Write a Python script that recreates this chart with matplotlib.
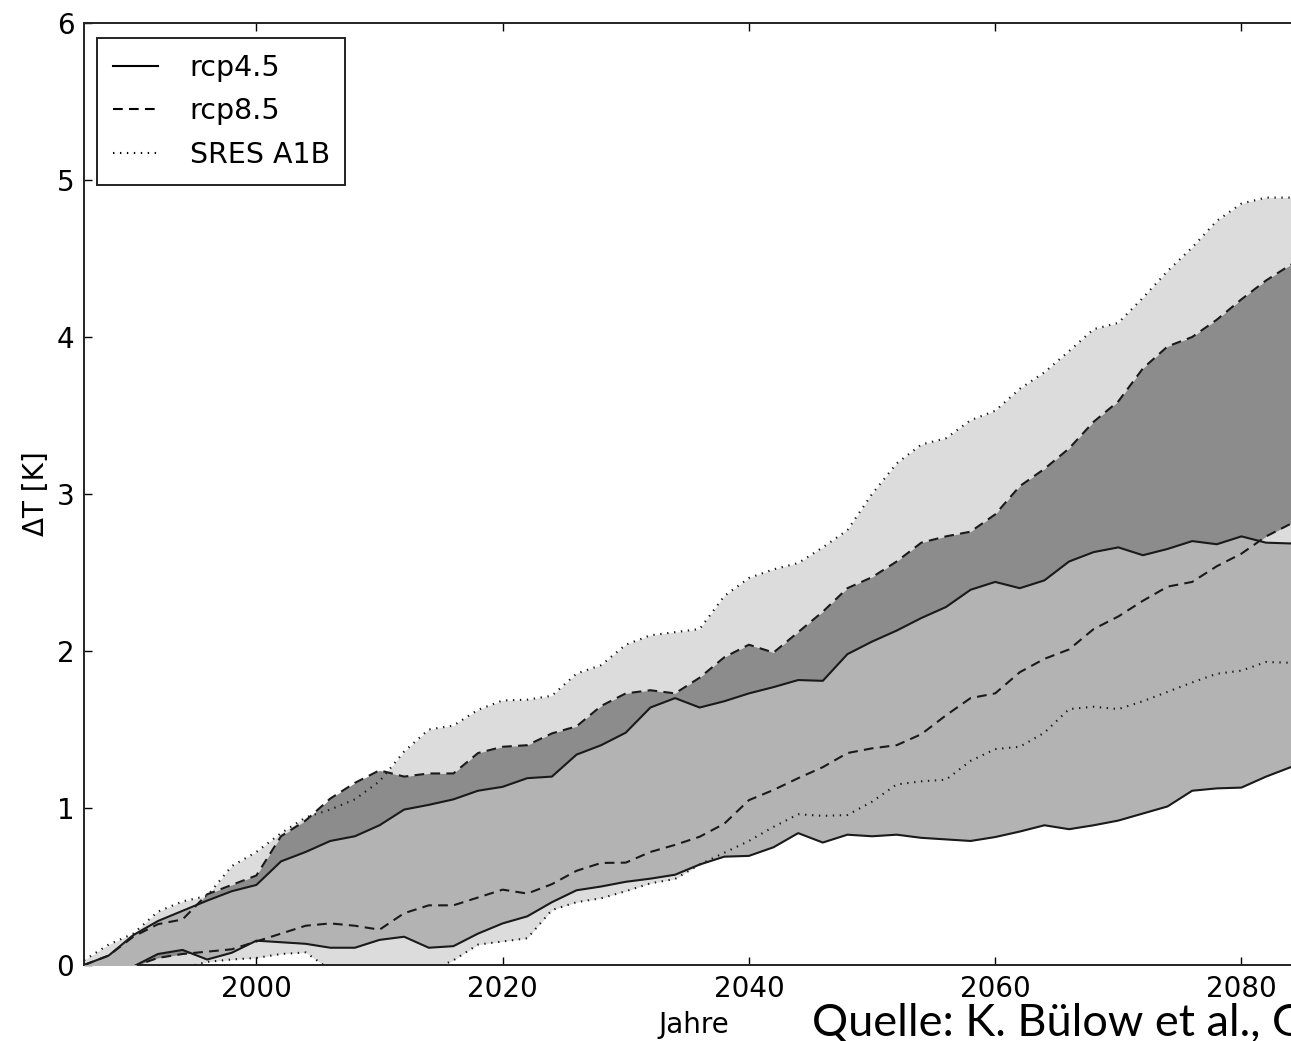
import matplotlib
matplotlib.use("Agg")
import matplotlib.pyplot as plt
from matplotlib.lines import Line2D

# years (every 2 years, last point at the axis end)
years = [1986, 1988, 1990, 1992, 1994, 1996, 1998, 2000, 2002, 2004,
         2006, 2008, 2010, 2012, 2014, 2016, 2018, 2020, 2022, 2024,
         2026, 2028, 2030, 2032, 2034, 2036, 2038, 2040, 2042, 2044,
         2046, 2048, 2050, 2052, 2054, 2056, 2058, 2060, 2062, 2064,
         2066, 2068, 2070, 2072, 2074, 2076, 2078, 2080, 2082, 2084, 2085]

# rcp4.5 range (solid)
rcp45_hi = [0.0, 0.06, 0.19, 0.28, 0.345, 0.41, 0.47, 0.51, 0.66, 0.72,
            0.79, 0.82, 0.89, 0.99, 1.02, 1.055, 1.11, 1.135, 1.19, 1.20,
            1.34, 1.40, 1.48, 1.64, 1.70, 1.64, 1.68, 1.73, 1.77, 1.815,
            1.81, 1.98, 2.06, 2.13, 2.21, 2.28, 2.39, 2.44, 2.40, 2.45,
            2.57, 2.63, 2.66, 2.61, 2.65, 2.70, 2.68, 2.73, 2.69, 2.685, 2.70]
rcp45_lo = [-0.05, -0.05, -0.01, 0.07, 0.096, 0.035, 0.078, 0.155, 0.145, 0.135,
            0.11, 0.11, 0.16, 0.18, 0.11, 0.12, 0.20, 0.265, 0.31, 0.40,
            0.476, 0.50, 0.53, 0.55, 0.575, 0.64, 0.69, 0.695, 0.75, 0.84,
            0.78, 0.83, 0.82, 0.83, 0.81, 0.80, 0.79, 0.815, 0.85, 0.89,
            0.865, 0.89, 0.92, 0.965, 1.01, 1.11, 1.125, 1.13, 1.20, 1.26, 1.28]

# rcp8.5 range (dashed)
rcp85_hi = [0.0, 0.06, 0.18, 0.26, 0.29, 0.45, 0.51, 0.57, 0.82, 0.92,
            1.06, 1.16, 1.24, 1.20, 1.22, 1.22, 1.35, 1.39, 1.40, 1.475,
            1.52, 1.65, 1.73, 1.75, 1.73, 1.83, 1.96, 2.04, 1.99, 2.12,
            2.25, 2.40, 2.47, 2.57, 2.69, 2.73, 2.76, 2.87, 3.05, 3.16,
            3.29, 3.46, 3.59, 3.80, 3.94, 4.00, 4.11, 4.24, 4.36, 4.46, 4.47]
rcp85_lo = [-0.05, -0.05, -0.01, 0.045, 0.07, 0.085, 0.10, 0.15, 0.20, 0.25,
            0.265, 0.25, 0.225, 0.33, 0.38, 0.38, 0.43, 0.48, 0.455, 0.515,
            0.60, 0.65, 0.652, 0.72, 0.765, 0.817, 0.90, 1.05, 1.115, 1.19,
            1.26, 1.35, 1.38, 1.40, 1.47, 1.59, 1.70, 1.73, 1.865, 1.95,
            2.01, 2.14, 2.22, 2.32, 2.41, 2.44, 2.54, 2.62, 2.73, 2.81, 2.83]

# SRES A1B range (dotted)
sres_hi = [0.03, 0.13, 0.20, 0.34, 0.405, 0.44, 0.63, 0.72, 0.84, 0.94,
           0.99, 1.055, 1.17, 1.36, 1.50, 1.525, 1.625, 1.685, 1.69, 1.715,
           1.856, 1.91, 2.04, 2.10, 2.12, 2.14, 2.35, 2.465, 2.52, 2.56,
           2.66, 2.77, 3.00, 3.195, 3.315, 3.355, 3.47, 3.53, 3.67, 3.775,
           3.91, 4.05, 4.09, 4.25, 4.42, 4.57, 4.74, 4.85, 4.888, 4.888, 4.888]
sres_lo = [-0.05, -0.05, -0.05, -0.04, -0.02, 0.02, 0.035, 0.045, 0.07, 0.08,
           -0.03, -0.08, -0.10, -0.08, -0.04, 0.03, 0.13, 0.15, 0.17, 0.35,
           0.40, 0.425, 0.47, 0.52, 0.548, 0.64, 0.715, 0.79, 0.88, 0.96,
           0.95, 0.955, 1.04, 1.15, 1.17, 1.18, 1.30, 1.375, 1.39, 1.48,
           1.63, 1.645, 1.63, 1.68, 1.74, 1.80, 1.855, 1.875, 1.93, 1.925, 1.93]

xticks = [2000, 2020, 2040, 2060, 2080]
yticks = [0, 1, 2, 3, 4, 5, 6]

plt.rcParams['lines.scale_dashes'] = False

fig = plt.figure(figsize=(12.91, 10.41), dpi=100)
# axes runs a bit past the right edge of the picture (cropped like the original)
ax = fig.add_axes([84 / 1291, 76 / 1041, 1219 / 1291, 942 / 1041])

ax.fill_between(years, sres_lo, sres_hi, color='#dcdcdc', lw=0, zorder=1)
ax.fill_between(years, rcp85_lo, rcp85_hi, color='#8c8c8c', lw=0, zorder=2)
ax.fill_between(years, rcp45_lo, rcp45_hi, color='#b3b3b3', lw=0, zorder=3)

lw = 1.5
dash = (7, 4.5)
dot = (1, 4)
ax.plot(years, rcp45_hi, color='#1a1a1a', lw=lw, zorder=5)
ax.plot(years, rcp45_lo, color='#1a1a1a', lw=lw, zorder=5)
ax.plot(years, rcp85_hi, color='#1a1a1a', lw=lw, dashes=dash, zorder=5)
ax.plot(years, rcp85_lo, color='#1a1a1a', lw=lw, dashes=dash, zorder=5)
ax.plot(years, sres_hi, color='#1a1a1a', lw=lw, dashes=dot, zorder=5)
ax.plot(years, sres_lo, color='#1a1a1a', lw=lw, dashes=dot, zorder=5)

ax.set_xlim(1986, 2085)
ax.set_ylim(0, 6)
ax.set_xticks(xticks)
ax.set_yticks(yticks)
ax.tick_params(direction='in', top=True, right=True, length=6, width=1,
               labelsize=20, pad=7)
for s in ax.spines.values():
    s.set_linewidth(1.4)
    s.set_color('#222222')

ax.set_xlabel('Jahre', fontsize=20, labelpad=6)
ax.set_ylabel('ΔT [K]', fontsize=20)
ax.yaxis.set_label_coords(-34 / 1219, 0.5)

handles = [Line2D([], [], color='k', lw=lw),
           Line2D([], [], color='k', lw=lw, dashes=dash),
           Line2D([], [], color='k', lw=lw, dashes=dot)]
leg = ax.legend(handles, ['rcp4.5', 'rcp8.5', 'SRES A1B'], loc='upper left',
                bbox_to_anchor=(13 / 1219, 1 - 15 / 942), borderaxespad=0,
                fontsize=20.5, fancybox=False, framealpha=1, handlelength=1.6,
                handletextpad=1.1, labelspacing=0.55, borderpad=0.55)
leg.get_frame().set_edgecolor('#222222')
leg.get_frame().set_linewidth(1.4)

fig.text(812 / 1291, 6 / 1041, 'Quelle: K. Bülow et al., G', fontsize=32.5,
         family='Lato', ha='left', va='baseline')

fig.savefig('out.png', dpi=100)
